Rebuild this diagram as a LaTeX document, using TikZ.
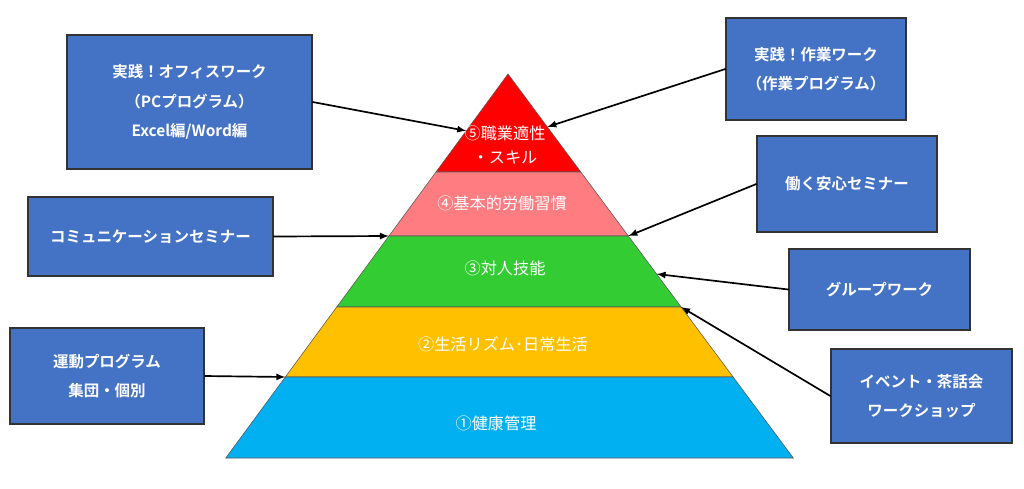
\documentclass[tikz,border=0pt]{standalone}
\usepackage{fontspec}
\setmainfont{Noto Sans CJK JP}[BoldFont={Noto Sans CJK JP Bold}]
\usetikzlibrary{calc}
\definecolor{layerred}{HTML}{FF0000}
\definecolor{layerpink}{HTML}{FF7C80}
\definecolor{layergreen}{HTML}{33CC33}
\definecolor{layeryellow}{HTML}{FFC000}
\definecolor{layerblue}{HTML}{00B0F0}
\definecolor{boxblue}{HTML}{4472C4}

\begin{document}
\begin{tikzpicture}[x=0.025cm,y=-0.025cm,cap=round,>=latex,
        layer/.style={draw=black!65,line width=0.4pt},
        layertext/.style={text=white,font=\fontsize{11.5}{17}\selectfont,align=center},
        prog/.style={draw=black!80,line width=0.9pt,fill=boxblue,text=white,
            font=\bfseries\fontsize{11}{21}\selectfont,align=center},
        link/.style={->,line width=1.2pt}]
        \useasboundingbox (0,0) rectangle (1024,488);
        % corners of the layers
        \foreach \i/\y in {0/74,1/172,2/236,3/307,4/377,5/458} {
                \coordinate (L\i) at ({508-0.735*(\y-74)},\y);
                \coordinate (R\i) at ({508+0.743*(\y-74)},\y);
                }
        % draw the layers
        \foreach \i/\j/\col in {0/1/layerred,1/2/layerpink,2/3/layergreen,
            3/4/layeryellow,4/5/layerblue}
                \filldraw[layer,fill=\col] (L\i) -- (R\i) -- (R\j) -- (L\j) -- cycle;
        % layer labels
        \node[layertext] (skill) at (505,145) {⑤職業適性\\・スキル};
        \node[layertext] (habit) at (502,203) {④基本的労働習慣};
        \node[layertext] (social) at (505,268) {③対人技能};
        \node[layertext] (life) at (503,344) {②生活リズム･日常生活};
        \node[layertext] (health) at (496,423) {①健康管理};
        % programme boxes
        \node[prog,minimum width=6.125cm,minimum height=3.35cm] (office) at (189.5,102)
            {実践！オフィスワーク\\（PCプログラム）\\Excel編/Word編};
        \node[prog,minimum width=6.125cm,minimum height=1.975cm] (comm) at (150.5,236.5)
            {コミュニケーションセミナー};
        \node[prog,minimum width=4.85cm,minimum height=2.4cm] (sport) at (107,376)
            {運動プログラム\\集団・個別};
        \node[prog,minimum width=4.5cm,minimum height=2.55cm] (work) at (816,69)
            {実践！作業ワーク\\（作業プログラム）};
        \node[prog,minimum width=4.5cm,minimum height=2.4cm] (safe) at (847,184)
            {働く安心セミナー};
        \node[prog,minimum width=4.525cm,minimum height=2.025cm] (group) at (879.5,289.5)
            {グループワーク};
        \node[prog,minimum width=4.525cm,minimum height=2.35cm] (event) at (921.5,396)
            {イベント・茶話会\\ワークショップ};
        % points on the sides
        \coordinate (p5l) at ($(L0)!0.58!(L1)$);
        \coordinate (p5r) at ($(R0)!0.54!(R1)$);
        \coordinate (p3r) at ($(R2)!0.535!(R3)$);
        % draw the arrows
        \draw[link] (office.east) -- (p5l);
        \draw[link] (work.west) -- (p5r);
        \draw[link] (safe.west) -- (R2);
        \draw[link] (comm.east) -- (L2);
        \draw[link] (group.west) -- (p3r);
        \draw[link] (event.west) -- (R3);
        \draw[link] (sport.east) -- (L4);
\end{tikzpicture}
\end{document}
